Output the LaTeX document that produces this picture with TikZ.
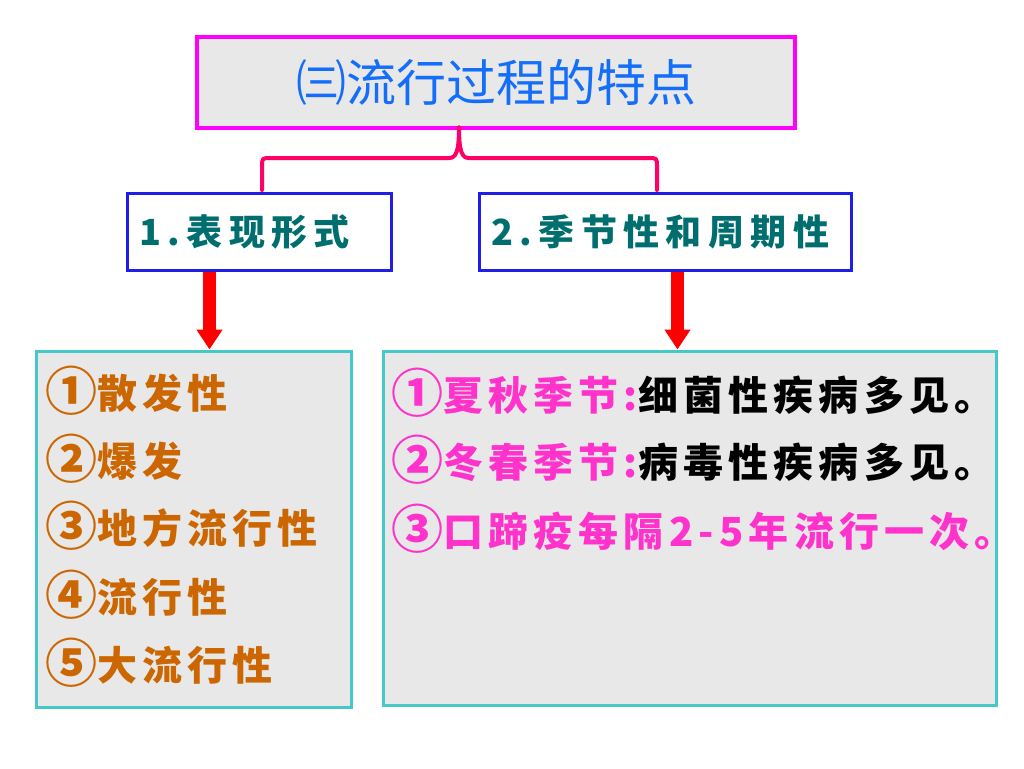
\documentclass[tikz,border=0pt]{standalone}
\usepackage{fontspec}
\setmainfont{Noto Sans CJK SC}
\newfontfamily\spaced[LetterSpace=13]{Noto Sans CJK SC}
\newfontfamily\headspaced[LetterSpace=18]{Noto Sans CJK SC}
\usepackage{tikz}
\usetikzlibrary{positioning,arrows.meta}
\definecolor{boxgray}{RGB}{232,232,232}
\definecolor{titleline}{RGB}{255,0,255}
\definecolor{titletext}{RGB}{20,110,250}
\definecolor{headline}{RGB}{30,30,230}
\definecolor{headtext}{RGB}{0,110,110}
\definecolor{listline}{RGB}{70,200,200}
\definecolor{formtext}{RGB}{204,102,0}
\definecolor{seasontext}{RGB}{255,51,204}
\definecolor{bracered}{RGB}{255,0,102}
\definecolor{arrowred}{RGB}{255,0,0}
% bigger circled numbers
\newcommand{\cnum}[1]{\raisebox{-2.5pt}{\fontsize{52}{52}\selectfont #1}}

\begin{document}
\begin{tikzpicture}[x=1pt,y=-1pt,
        titlebox/.style = {draw=titleline, line width=4pt, fill=boxgray, text=titletext,
            minimum width=598pt, minimum height=91pt, font=\fontsize{50}{56}\selectfont},
        headbox/.style = {draw=headline, line width=3pt, fill=white, text=headtext,
            minimum height=77pt, inner xsep=12pt, align=left,
            font=\headspaced\bfseries\fontsize{36}{40}\selectfont},
        listbox/.style = {draw=listline, line width=3pt, fill=boxgray},
        item/.style = {inner sep=0pt, anchor=west, font=\spaced\bfseries\fontsize{40}{44}\selectfont},
        redarrow/.style = {draw=arrowred, line width=13pt, -{Triangle[width=25pt,length=20pt]}, arrowred}]

        \useasboundingbox (0,0) rectangle (1024,768);

        \node[titlebox] (title) at (496,82.5) {㈢流行过程的特点};
        \node[headbox, text width=240pt] (form) at (259,231.5) {1.表现形式};
        \node[headbox, text width=348pt] (season) at (665,231.5) {2.季节性和周期性};

        \node[listbox, minimum width=315pt, minimum height=356pt] (lbox) at (193.5,529) {};
        \node[listbox, minimum width=613pt, minimum height=354pt] (rbox) at (689.5,528) {};

        % left list
        \node[item, text=formtext] (f1) at (45,391) {\cnum{①}散发性};
        \node[item, text=formtext] (f2) [below=68pt of f1.west, anchor=west] {\cnum{②}爆发};
        \node[item, text=formtext] (f3) [below=67pt of f2.west, anchor=west] {\cnum{③}地方流行性};
        \node[item, text=formtext] (f4) [below=69pt of f3.west, anchor=west] {\cnum{④}流行性};
        \node[item, text=formtext] (f5) [below=68pt of f4.west, anchor=west] {\cnum{⑤}大流行性};

        % right list
        \node[item, text=seasontext] (s1) at (391,393) {\cnum{①}夏秋季节:\textcolor{black}{细菌性疾病多见。}};
        \node[item, text=seasontext] (s2) [below=67pt of s1.west, anchor=west] {\cnum{②}冬春季节:\textcolor{black}{病毒性疾病多见。}};
        \node[item, text=seasontext] (s3) [below=69pt of s2.west, anchor=west] {\cnum{③}口蹄疫每隔2-5年流行一次。};

        % brace
        \coordinate (tip) at (459,127);
        \coordinate (bl) at (262,190);
        \coordinate (br) at (657,190);
        \draw[bracered, line width=4pt, line cap=round, line join=round]
            (bl) -- (262,167) .. controls (262,158) .. (271,158) -- (449,158)
            .. controls (456,158) and (459,152) .. (tip)
            .. controls (459,152) and (462,158) .. (469,158) -- (648,158)
            .. controls (657,158) .. (657,167) -- (br);

        \coordinate (a1) at ([xshift=-49.5pt]form.south);
        \coordinate (a2) at ([xshift=12.5pt]season.south);
        \draw[redarrow] (a1) -- (a1 |- lbox.north);
        \draw[redarrow] (a2) -- (a2 |- rbox.north);

\end{tikzpicture}
\end{document}
